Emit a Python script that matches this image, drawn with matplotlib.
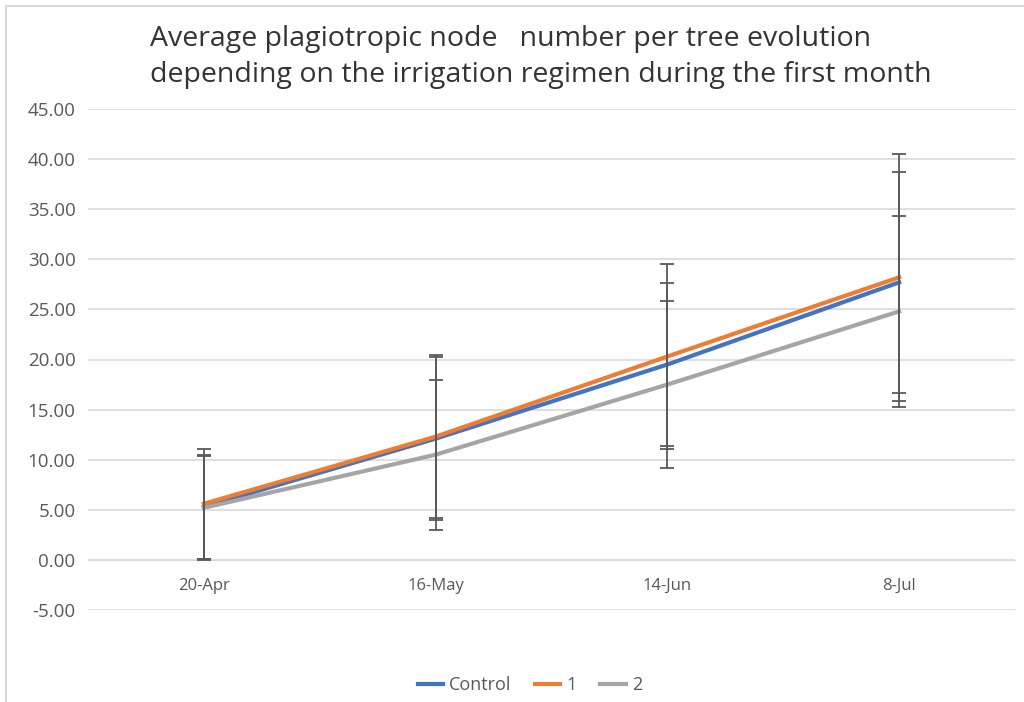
import matplotlib.pyplot as plt
import matplotlib.patches as patches
import numpy as np

# data
dates = ["20-Apr", "16-May", "14-Jun", "8-Jul"]
control = [5.3, 12.1, 19.5, 27.7]
control_err = [5.2, 8.1, 8.1, 11.0]
reg1 = [5.6, 12.3, 20.3, 28.2]
reg1_err = [5.5, 8.1, 9.2, 12.3]
reg2 = [5.2, 10.5, 17.5, 24.8]
reg2_err = [5.2, 7.5, 8.3, 9.5]

series = [
    ("Control", control, control_err, "#4472C4"),
    ("1", reg1, reg1_err, "#ED7D31"),
    ("2", reg2, reg2_err, "#A5A5A5"),
]

plt.rcParams['font.family'] = ['Open Sans', 'DejaVu Sans']

fig = plt.figure(figsize=(10.24, 7.02), dpi=100)
ax = fig.add_axes([88 / 1024, 1 - 610 / 702, (1015 - 88) / 1024, (610 - 109) / 702])

# light frame of the chart area
fig.patches.append(patches.Rectangle((6 / 1024, -0.1), 1.2, 1 - 6 / 702 + 0.1,
                                     transform=fig.transFigure, fill=False,
                                     edgecolor='#D9D9D9', linewidth=1.5))

x = np.arange(len(dates))
for name, vals, errs, col in series:
    ax.plot(x, vals, color=col, linewidth=3, label=name, zorder=3)
for name, vals, errs, col in series:
    ax.errorbar(x, vals, yerr=errs, fmt='none', ecolor='#595959',
                elinewidth=1.3, capsize=5, capthick=1.3, zorder=4)

ax.set_xlim(-0.5, len(dates) - 0.5)
ax.set_ylim(-5, 45)
ax.set_yticks(np.arange(-5, 46, 5))
ax.set_yticklabels([f"{v:.2f}" for v in np.arange(-5, 46, 5)])
ax.yaxis.grid(True, color='#D9D9D9', linewidth=1.2)
ax.set_axisbelow(True)
for s in ['left', 'right', 'top']:
    ax.spines[s].set_visible(False)
ax.spines['bottom'].set_position(('data', 0))
ax.spines['bottom'].set_color('#D9D9D9')
ax.set_xticks(x)
ax.set_xticklabels(dates)
ax.tick_params(axis='both', length=0, labelcolor='#595959')
ax.tick_params(axis='x', pad=13, labelsize=12)
ax.tick_params(axis='y', pad=9, labelsize=13.5)

fig.text(150 / 1024, 1 - 57 / 702,
         "Average plagiotropic node   number per tree evolution\n"
         "depending on the irrigation regimen during the first month",
         ha='left', va='center', fontsize=20.5, color='#333333', linespacing=1.35)

fig.legend(loc='center', bbox_to_anchor=(530 / 1024, 1 - 685 / 702), ncol=3, frameon=False,
           fontsize=13, handlelength=1.4, handletextpad=0.35, columnspacing=1.3,
           labelcolor='#595959')

fig.savefig("out.png", dpi=100)
